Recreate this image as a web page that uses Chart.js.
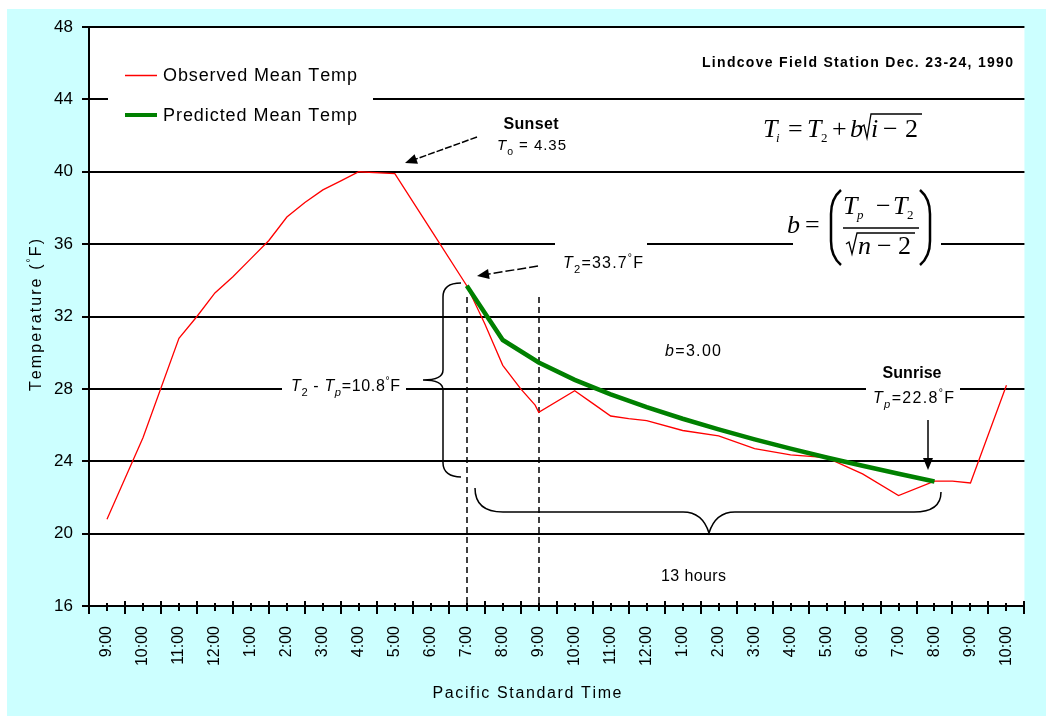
<!DOCTYPE html>
<html><head><meta charset="utf-8">
<script src="https://cdn.jsdelivr.net/npm/chart.js@4.4.0/dist/chart.umd.min.js"></script>
<style>html,body{margin:0;padding:0;background:#fff}#wrap{width:1046px;height:716px}</style>
</head><body><div id="wrap"><canvas id="c" width="1046" height="716"></canvas></div>
<script>
// ---- data ----
const timeLabels = ['9:00','10:00','11:00','12:00','1:00','2:00','3:00','4:00','5:00','6:00','7:00','8:00','9:00',
  '10:00','11:00','12:00','1:00','2:00','3:00','4:00','5:00','6:00','7:00','8:00','9:00','10:00'];
const yTicks = [16,20,24,28,32,36,40,44,48];
// hour index (0 = 9:00 AM Dec 23)
const observedHour = [0,1,2,2.5,3,3.5,4,4.5,5,5.5,6,6.5,7,8,9,10,10.5,11,11.5,11.9,12,13,13.5,14,14.5,15,16,17,18,19,20,21,22,23,23.5,24,25];
const observedTemp = [20.8,25.3,30.8,32.0,33.3,34.2,35.2,36.2,37.5,38.3,39.0,39.5,40.0,39.9,36.8,33.7,31.6,29.3,28.0,27.1,26.7,27.9,27.2,26.5,26.35,26.25,25.7,25.4,24.7,24.35,24.2,23.3,22.1,22.9,22.9,22.8,28.2];
const predictedHour = [10,11,12,13,14,15,16,17,18,19,20,21,22,23];
const predictedTemp = [33.70,30.70,29.46,28.50,27.70,26.99,26.35,25.76,25.21,24.70,24.21,23.75,23.31,22.88];
const seriesNames = ['Observed Mean Temp','Predicted Mean Temp'];

const FAM = "'Liberation Sans', Arial, sans-serif";
const SERIF = "'Liberation Serif', 'Times New Roman', serif";

function toXY(xs, ys){ return xs.map((x,i)=>({x:x, y:ys[i]})); }

// rich text: parts [{t, it, sub, sup, b}] ; y = middle
function rich(ctx, parts, x, y, size, targetW, align){
  ctx.save();
  ctx.textBaseline = 'alphabetic';
  const chars = [];
  for (const p of parts){
    const s = p.sub ? size*0.7 : p.sup ? size*0.65 : size;
    const f = (p.it?'italic ':'') + (p.b?'bold ':'') + s + 'px ' + FAM;
    const dy = p.sub ? size*0.3 : p.sup ? -size*0.4 : 0;
    for (const ch of p.t){ ctx.font = f; chars.push({ch, f, dy, w: ctx.measureText(ch).width}); }
  }
  const nat = chars.reduce((a,c)=>a+c.w,0);
  let ls = 0, sx = 1;
  if (targetW && chars.length>1){
    ls = (targetW-nat)/(chars.length-1);
    if (ls < 0){ ls = 0; sx = targetW/nat; }
  }
  const total = (nat + ls*(chars.length-1))*sx;
  let cx = align==='center' ? x-total/2 : align==='right' ? x-total : x;
  const base = y + size*0.36;
  ctx.translate(cx, base); ctx.scale(sx,1);
  let ox = 0;
  for (const c of chars){ ctx.font = c.f; ctx.fillText(c.ch, ox, c.dy); ox += c.w + ls/sx; }
  ctx.restore();
}

function arrow(ctx, x1,y1,x2,y2, dash){
  ctx.save();
  const a = Math.atan2(y2-y1, x2-x1), L=12, H=5;
  ctx.strokeStyle='#000'; ctx.fillStyle='#000'; ctx.lineWidth=1.5;
  if (dash) ctx.setLineDash(dash);
  ctx.beginPath(); ctx.moveTo(x1,y1); ctx.lineTo(x2-Math.cos(a)*L*0.6, y2-Math.sin(a)*L*0.6); ctx.stroke();
  ctx.setLineDash([]);
  ctx.beginPath(); ctx.moveTo(x2,y2);
  ctx.lineTo(x2-Math.cos(a)*L - Math.sin(a)*H, y2-Math.sin(a)*L + Math.cos(a)*H);
  ctx.lineTo(x2-Math.cos(a)*L + Math.sin(a)*H, y2-Math.sin(a)*L - Math.cos(a)*H);
  ctx.closePath(); ctx.fill();
  ctx.restore();
}

const deco = {
  id:'deco',
  beforeDraw(chart){
    const {ctx, chartArea:a} = chart;
    ctx.save();
    ctx.fillStyle='#ffffff'; ctx.fillRect(0,0,chart.width,chart.height);
    ctx.fillStyle='#ccffff'; ctx.fillRect(7,9,chart.width-7,chart.height-9);
    ctx.fillStyle='#ffffff'; ctx.fillRect(a.left,a.top,a.right-a.left,a.bottom-a.top);
    ctx.restore();
  },
  beforeDatasetsDraw(chart){
    const {ctx, chartArea:a, scales:{x,y}} = chart;
    ctx.save();
    ctx.fillStyle='#fff';
    const gap=(x1,x2,v)=>{const py=y.getPixelForValue(v); ctx.fillRect(x1,py-3,x2-x1,6);};
    gap(108,373,44); gap(555,647,36); gap(793,941,36); gap(282,406,28); gap(866,960,28);
    ctx.strokeStyle='#000'; ctx.lineWidth=1.5; ctx.setLineDash([6,4]);
    for (const h of [10,12]){
      const px = Math.round(x.getPixelForValue(h));
      ctx.beginPath(); ctx.moveTo(px,297); ctx.lineTo(px,a.bottom); ctx.stroke();
    }
    ctx.setLineDash([]);
    ctx.lineWidth=1.5;
    ctx.beginPath();
    ctx.moveTo(461,283); ctx.bezierCurveTo(450,283,443,287,443,297); ctx.lineTo(443,370);
    ctx.bezierCurveTo(443,377,437,380,423,380); ctx.bezierCurveTo(437,380,443,383,443,390);
    ctx.lineTo(443,463); ctx.bezierCurveTo(443,472,450,477,461,477);
    ctx.stroke();
    ctx.beginPath();
    ctx.moveTo(475,488); ctx.bezierCurveTo(475,505,485,512,503,512); ctx.lineTo(683,512);
    ctx.bezierCurveTo(697,512,705,520,709,533); ctx.bezierCurveTo(713,520,721,512,735,512);
    ctx.lineTo(914,512); ctx.bezierCurveTo(932,512,941,505,941,492);
    ctx.stroke();
    ctx.restore();
  },
  afterDatasetsDraw(chart){
    const {ctx, chartArea:a, scales:{x,y}} = chart;
    ctx.save();
    ctx.fillStyle='#000';
    ctx.strokeStyle='#000'; ctx.lineWidth=2;
    for (let k=0;k<=timeLabels.length;k++){
      const px=Math.round(x.getPixelForValue(k-0.5));
      ctx.beginPath(); ctx.moveTo(px,a.bottom-5); ctx.lineTo(px,a.bottom+8); ctx.stroke();
    }
    for (let k=0;k<timeLabels.length;k++){
      const px=Math.round(x.getPixelForValue(k));
      ctx.beginPath(); ctx.moveTo(px,a.bottom-3); ctx.lineTo(px,a.bottom+5); ctx.stroke();
    }
    // legend
    const ds = chart.data.datasets;
    ctx.lineWidth=1.5; ctx.strokeStyle=ds[0].borderColor;
    ctx.beginPath(); ctx.moveTo(125,75.5); ctx.lineTo(157,75.5); ctx.stroke();
    ctx.lineWidth=4; ctx.strokeStyle=ds[1].borderColor;
    ctx.beginPath(); ctx.moveTo(125,115); ctx.lineTo(157,115); ctx.stroke();
    rich(ctx,[{t:ds[0].label}],163,75,18,194);
    rich(ctx,[{t:ds[1].label}],163,115,18,194);
    // title
    rich(ctx,[{t:'Lindcove Field Station Dec. 23-24, 1990',b:true}],702,62,14,311);
    // sunset
    rich(ctx,[{t:'Sunset',b:true}],531,123,16,55,'center');
    rich(ctx,[{t:'T',it:true},{t:'o',sub:true},{t:' = 4.35'}],497,145,15,69);
    arrow(ctx,477,137,405,163,[7,2]);
    // T2
    rich(ctx,[{t:'T',it:true},{t:'2',sub:true},{t:'=33.7'},{t:'°',sup:true},{t:'F'}],563,262,16,80);
    arrow(ctx,538,266,477,276,[9,3]);
    // T2 - Tp
    rich(ctx,[{t:'T',it:true},{t:'2',sub:true},{t:' - '},{t:'T',it:true},{t:'p',it:true,sub:true},{t:'=10.8'},{t:'°',sup:true},{t:'F'}],291,385,16,109);
    // b
    rich(ctx,[{t:'b',it:true},{t:'=3.00'}],665,350,16,56);
    // sunrise
    rich(ctx,[{t:'Sunrise',b:true}],912,372,16,59,'center');
    rich(ctx,[{t:'T',it:true},{t:'p',it:true,sub:true},{t:'=22.8'},{t:'°',sup:true},{t:'F'}],873,397,16,81);
    arrow(ctx,928,420,928,470,null);
    // 13 hours
    rich(ctx,[{t:'13 hours'}],661,575,16,65);
    // formula 1
    ctx.fillStyle='#000'; ctx.textBaseline='alphabetic';
    const fI='italic 26px '+SERIF, fR='26px '+SERIF, fS='italic 13px '+SERIF, fSR='13px '+SERIF;
    ctx.font=fI; ctx.fillText('T',763,137);
    ctx.font=fS; ctx.fillText('i',776,142);
    ctx.font=fR; ctx.fillText('=',788,137);
    ctx.font=fI; ctx.fillText('T',807,137);
    ctx.font=fSR; ctx.fillText('2',821,142);
    ctx.font=fR; ctx.fillText('+',832,137);
    ctx.font=fI; ctx.fillText('b',850,137);
    ctx.lineWidth=1.3; ctx.strokeStyle='#000';
    ctx.beginPath(); ctx.moveTo(861,127); ctx.lineTo(864,125); ctx.lineTo(867,138); ctx.lineTo(871,114); ctx.lineTo(922,114); ctx.stroke();
    ctx.font=fI; ctx.fillText('i',871,137);
    ctx.font=fR; ctx.fillText('\u2212',883,137); ctx.fillText('2',905,137);
    // formula 2
    ctx.font=fI; ctx.fillText('b',787,233);
    ctx.font=fR; ctx.fillText('=',805,233);
    ctx.lineWidth=2.5;
    ctx.beginPath(); ctx.moveTo(841,190); ctx.bezierCurveTo(834,196,831,204,831,214); ctx.lineTo(831,241); ctx.bezierCurveTo(831,251,834,259,841,265); ctx.stroke();
    ctx.beginPath(); ctx.moveTo(920,190); ctx.bezierCurveTo(927,196,930,204,930,214); ctx.lineTo(930,241); ctx.bezierCurveTo(930,251,927,259,920,265); ctx.stroke();
    ctx.font=fI; ctx.fillText('T',843,214);
    ctx.font=fS; ctx.fillText('p',857,219);
    ctx.font=fR; ctx.fillText('\u2212',876,214);
    ctx.font=fI; ctx.fillText('T',893,214);
    ctx.font=fSR; ctx.fillText('2',907,219);
    ctx.lineWidth=1.3;
    ctx.beginPath(); ctx.moveTo(843,228); ctx.lineTo(919,228); ctx.stroke();
    ctx.beginPath(); ctx.moveTo(846,244); ctx.lineTo(849,242); ctx.lineTo(852,254); ctx.lineTo(857,233); ctx.lineTo(915,233); ctx.stroke();
    ctx.font=fI; ctx.fillText('n',858,254);
    ctx.font=fR; ctx.fillText('\u2212',877,254); ctx.fillText('2',898,254);
    // axis titles
    rich(ctx,[{t:'Pacific Standard Time'}],527,692,16,189,'center');
    ctx.save(); ctx.translate(35,315); ctx.rotate(-Math.PI/2);
    rich(ctx,[{t:'Temperature ('},{t:'°',sup:true},{t:'F)'}],0,0,16,152,'center');
    ctx.restore();
    ctx.restore();
  }
};

new Chart(document.getElementById('c'), {
  type:'line',
  data:{ datasets:[
    {label:seriesNames[0], data:toXY(observedHour,observedTemp), borderColor:'#ff0000', borderWidth:1.3, pointRadius:0, tension:0, order:1},
    {label:seriesNames[1], data:toXY(predictedHour,predictedTemp), borderColor:'#008000', borderWidth:4.5, pointRadius:0, tension:0, order:0}
  ]},
  options:{
    responsive:false, animation:false, devicePixelRatio:1,
    layout:{padding:{left:0,top:27,right:18,bottom:0}},
    plugins:{legend:{display:false}, tooltip:{enabled:false}},
    scales:{
      x:{type:'linear', min:-0.5, max:timeLabels.length-0.5,
        afterBuildTicks:(s)=>{ s.ticks = timeLabels.map((_,i)=>({value:i})); },
        afterFit:(s)=>{ s.height = 110; },
        grid:{display:false, drawTicks:false},
        border:{display:true, color:'#000', width:2},
        ticks:{autoSkip:false, minRotation:90, maxRotation:90, padding:20, color:'#000',
          font:{family:FAM, size:16}, callback:(v)=>timeLabels[v]}
      },
      y:{type:'linear', min:yTicks[0], max:yTicks[yTicks.length-1],
        afterBuildTicks:(s)=>{ s.ticks = yTicks.map(v=>({value:v})); },
        afterFit:(s)=>{ s.width = 89; },
        grid:{color:'#000', lineWidth:2, tickLength:7, tickColor:'#000', tickWidth:2},
        border:{display:true, color:'#000', width:2},
        ticks:{padding:9, color:'#000', font:{family:FAM, size:17}}
      }
    }
  },
  plugins:[deco]
});
</script></body></html>
